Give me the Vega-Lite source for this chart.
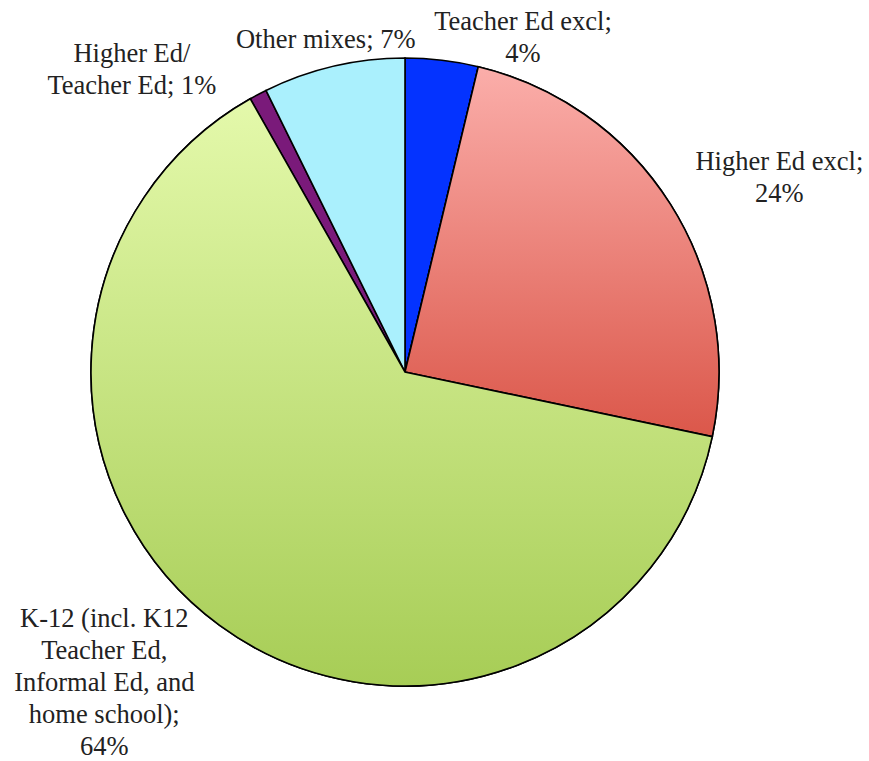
{
  "$schema": "https://vega.github.io/schema/vega-lite/v6.json",
  "width": 810,
  "height": 744,
  "autosize": "none",
  "padding": {"left": 0, "top": 0, "right": 59, "bottom": 17},
  "background": "white",
  "config": {"view": {"stroke": null}},
  "data": {
    "values": [
      {"order": 1, "category": "Teacher Ed excl", "value": 3.75, "label": "Teacher Ed excl;\n4%"},
      {"order": 2, "category": "Higher Ed excl", "value": 24.55, "label": "Higher Ed excl;\n24%"},
      {"order": 3, "category": "K-12", "value": 63.5, "label": "K-12 (incl. K12\nTeacher Ed,\nInformal Ed, and\nhome school);\n64%"},
      {"order": 4, "category": "Higher Ed/Teacher Ed", "value": 0.9, "label": "Higher Ed/\nTeacher Ed; 1%"},
      {"order": 5, "category": "Other mixes", "value": 7.3, "label": "Other mixes; 7%"}
    ]
  },
  "encoding": {
    "theta": {"field": "value", "type": "quantitative", "stack": true},
    "order": {"field": "order", "type": "quantitative"}
  },
  "layer": [
    {
      "mark": {"type": "arc", "radius": 314, "stroke": "black", "strokeWidth": 1.6},
      "encoding": {
        "color": {
          "field": "category",
          "type": "nominal",
          "scale": {
            "domain": ["Teacher Ed excl", "Higher Ed excl", "K-12", "Higher Ed/Teacher Ed", "Other mixes"],
            "range": ["#0433FF", "#EE8A84", "#C8E48A", "#7A1A7A", "#AAF0FD"]
          },
          "legend": null
        }
      }
    },
    {
      "mark": {
        "type": "arc", "radius": 314, "stroke": "black", "strokeWidth": 1.6,
        "fill": {"gradient": "linear", "x1": 0, "y1": 0, "x2": 0, "y2": 1,
          "stops": [{"offset": 0, "color": "#FBAEAA"}, {"offset": 1, "color": "#DB574A"}]}
      },
      "encoding": {
        "opacity": {"condition": {"test": "datum.category == 'Higher Ed excl'", "value": 1}, "value": 0}
      }
    },
    {
      "mark": {
        "type": "arc", "radius": 314, "stroke": "black", "strokeWidth": 1.6,
        "fill": {"gradient": "linear", "x1": 0, "y1": 0, "x2": 0, "y2": 1,
          "stops": [{"offset": 0, "color": "#E4F9AB"}, {"offset": 1, "color": "#A7CD56"}]}
      },
      "encoding": {
        "opacity": {"condition": {"test": "datum.category == 'K-12'", "value": 1}, "value": 0}
      }
    },
    {
      "mark": {"type": "text", "radius": 340, "font": "Liberation Serif", "fontSize": 26.5, "lineHeight": 32, "lineBreak": "\n", "align": "center", "baseline": "middle", "color": "#222222", "dx": 78, "dy": -12},
      "encoding": {"text": {"condition": {"test": "datum.order == 1", "field": "label"}, "value": ""}}
    },
    {
      "mark": {"type": "text", "radius": 340, "font": "Liberation Serif", "fontSize": 26.5, "lineHeight": 32, "lineBreak": "\n", "align": "center", "baseline": "middle", "color": "#222222", "dx": 87, "dy": -28},
      "encoding": {"text": {"condition": {"test": "datum.order == 2", "field": "label"}, "value": ""}}
    },
    {
      "mark": {"type": "text", "radius": 340, "font": "Liberation Serif", "fontSize": 26.5, "lineHeight": 32, "lineBreak": "\n", "align": "center", "baseline": "middle", "color": "#222222", "dx": -100, "dy": -27},
      "encoding": {"text": {"condition": {"test": "datum.order == 3", "field": "label"}, "value": ""}}
    },
    {
      "mark": {"type": "text", "radius": 340, "font": "Liberation Serif", "fontSize": 26.5, "lineHeight": 32, "lineBreak": "\n", "align": "center", "baseline": "middle", "color": "#222222", "dx": -114, "dy": -18},
      "encoding": {"text": {"condition": {"test": "datum.order == 4", "field": "label"}, "value": ""}}
    },
    {
      "mark": {"type": "text", "radius": 340, "font": "Liberation Serif", "fontSize": 26.5, "lineHeight": 32, "lineBreak": "\n", "align": "center", "baseline": "middle", "color": "#222222", "dx": -2, "dy": -1},
      "encoding": {"text": {"condition": {"test": "datum.order == 5", "field": "label"}, "value": ""}}
    }
  ]
}
